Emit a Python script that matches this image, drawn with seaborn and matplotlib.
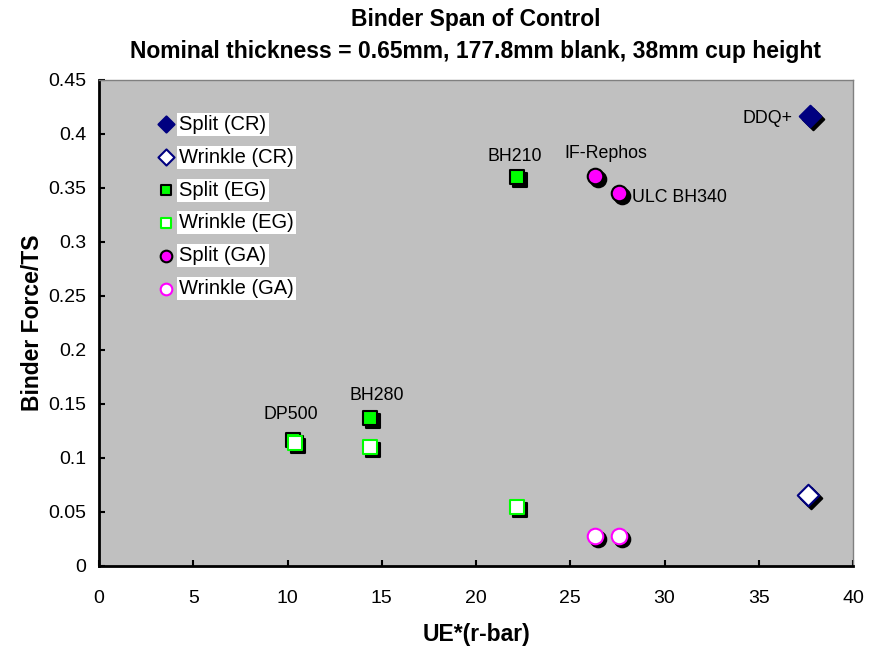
import matplotlib
matplotlib.use("Agg")
import matplotlib.pyplot as plt
from matplotlib.transforms import offset_copy
import seaborn as sns
import pandas as pd

# Binder force / TS versus UE*(r-bar) for split and wrinkle limits
split_cr_x = [37.7]
split_cr_y = [0.417]
wrinkle_cr_x = [37.6]
wrinkle_cr_y = [0.066]
split_eg_x = [10.3, 14.4, 22.2]
split_eg_y = [0.117, 0.137, 0.360]
wrinkle_eg_x = [10.4, 14.4, 22.2]
wrinkle_eg_y = [0.114, 0.110, 0.055]
split_ga_x = [26.3, 27.6]
split_ga_y = [0.361, 0.345]
wrinkle_ga_x = [26.3, 27.6]
wrinkle_ga_y = [0.028, 0.028]

grade_names = ["DDQ+", "BH210", "IF-Rephos", "ULC BH340", "BH280", "DP500"]
grade_x = [37.7, 22.2, 26.3, 27.6, 14.4, 10.3]
grade_y = [0.417, 0.360, 0.361, 0.345, 0.137, 0.117]
# label offsets in points and alignment
grade_offsets = [(-12, -2), (-2, 15), (8, 16.5), (9.5, -3), (4.3, 16.5), (-1.5, 18)]
grade_ha = ["right", "center", "center", "left", "center", "center"]

sns.set_theme(style="white")
plt.rcParams["font.family"] = ["Liberation Sans", "DejaVu Sans"]
plt.rcParams["text.color"] = "black"
plt.rcParams["axes.labelcolor"] = "black"

fig = plt.figure(figsize=(8.69, 6.51), dpi=100)
ax = fig.add_axes([99 / 869, 1 - 566 / 651, 754 / 869, 486 / 651])
ax.set_facecolor("#C0C0C0")

series = [
    ("Split (CR)", split_cr_x, split_cr_y, "D", "#000080", "#000080", 120),
    ("Wrinkle (CR)", wrinkle_cr_x, wrinkle_cr_y, "D", "white", "#000080", 120),
    ("Split (EG)", split_eg_x, split_eg_y, "s", "#00FF00", "black", 105),
    ("Wrinkle (EG)", wrinkle_eg_x, wrinkle_eg_y, "s", "white", "#00FF00", 105),
    ("Split (GA)", split_ga_x, split_ga_y, "o", "#FF00FF", "black", 125),
    ("Wrinkle (GA)", wrinkle_ga_x, wrinkle_ga_y, "o", "white", "#FF00FF", 125),
]

shadow = offset_copy(ax.transData, fig=fig, x=3, y=-3, units="dots")
handles = []
for label, xs, ys, mk, fc, ec, size in series:
    df = pd.DataFrame({"x": xs, "y": ys})
    n0 = len(ax.collections)
    sns.scatterplot(data=df, x="x", y="y", marker=mk, s=size, color="black",
                    edgecolor="black", linewidth=1.5, ax=ax, legend=False, zorder=2)
    ax.collections[n0].set_offset_transform(shadow)
    n1 = len(ax.collections)
    sns.scatterplot(data=df, x="x", y="y", marker=mk, s=size, color=fc,
                    edgecolor=ec, linewidth=1.5, ax=ax, legend=False, zorder=3)
    coll = ax.collections[n1]
    coll.set_label(label)
    handles.append(coll)

for name, gx, gy, off, ha in zip(grade_names, grade_x, grade_y, grade_offsets, grade_ha):
    ax.annotate(name, (gx, gy), xytext=off, textcoords="offset points",
                ha=ha, va="center", fontsize=12.8, color="black", zorder=1)

ax.set_xlim(0, 40)
ax.set_ylim(0, 0.45)
ax.set_xticks(range(0, 41, 5))
ax.set_yticks([0, 0.05, 0.1, 0.15, 0.2, 0.25, 0.3, 0.35, 0.4, 0.45])
ax.set_yticklabels(["0", "0.05", "0.1", "0.15", "0.2", "0.25", "0.3", "0.35", "0.4", "0.45"])
ax.tick_params(axis="both", labelsize=14, colors="black", length=4, width=1.5,
               direction="in", bottom=True, left=True)
ax.tick_params(axis="x", pad=17)
ax.tick_params(axis="y", pad=9)
for side in ("left", "bottom"):
    ax.spines[side].set_color("black")
    ax.spines[side].set_linewidth(2)
for side in ("top", "right"):
    ax.spines[side].set_color("#808080")
    ax.spines[side].set_linewidth(1)

ax.set_xlabel("UE*(r-bar)", fontsize=16.5, fontweight="bold", labelpad=12, color="black")
ax.set_ylabel("Binder Force/TS", fontsize=16.5, fontweight="bold", labelpad=3, color="black")
ax.set_title("Binder Span of Control\nNominal thickness = 0.65mm, 177.8mm blank, 38mm cup height",
             fontsize=16.5, fontweight="bold", pad=16, linespacing=1.5, color="black")

leg = ax.legend(handles=handles, loc="upper left", bbox_to_anchor=(0.068, 0.945),
                frameon=False, fontsize=14.5, handletextpad=0.25, labelspacing=0.69,
                handlelength=0.8, markerscale=0.75, borderaxespad=0)
for t in leg.get_texts():
    t.set_color("black")
    t.set_bbox(dict(facecolor="white", edgecolor="none", pad=1.5))

fig.savefig("out.png", dpi=100)
